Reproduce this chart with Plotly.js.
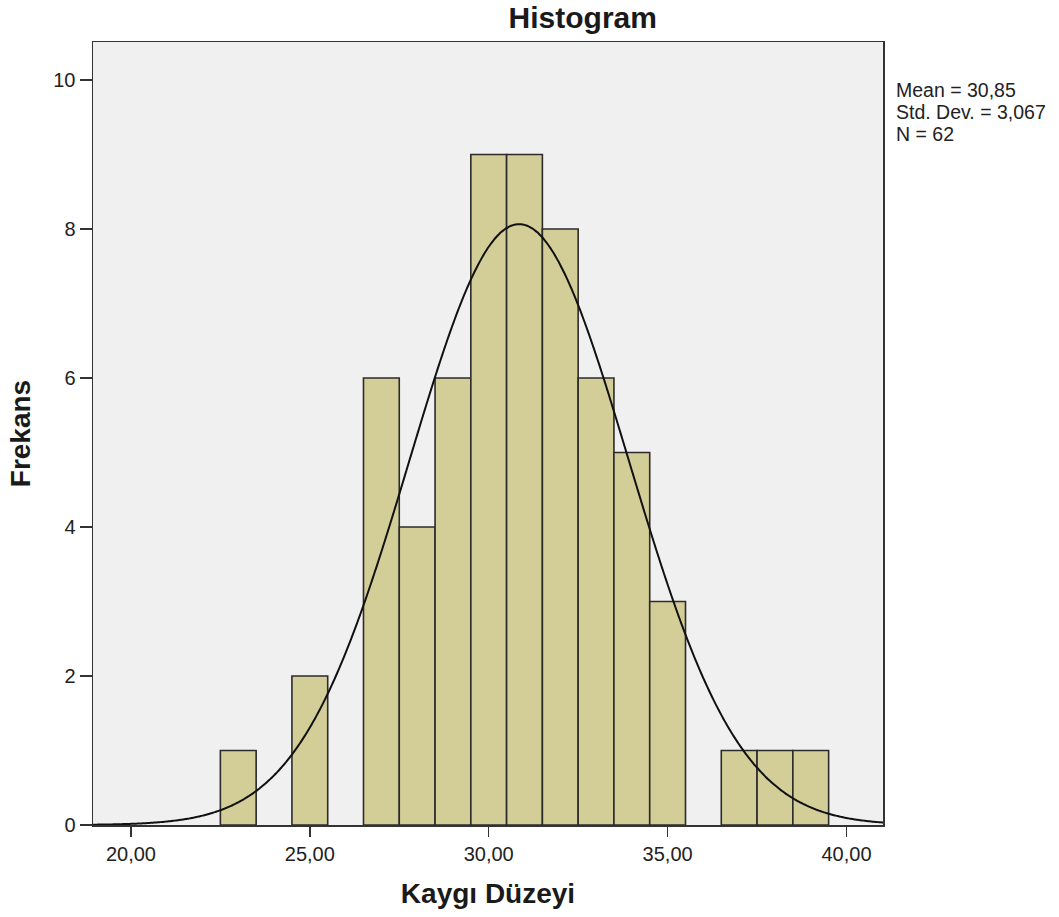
<!DOCTYPE html>
<html><head><meta charset="utf-8">
<script src="https://cdn.plot.ly/plotly-3.0.1.min.js"></script>
<style>html,body{margin:0;padding:0;background:#fff;}#chart{width:1059px;height:917px;}</style>
</head><body><div id="chart"></div>
<script>
// Bin centers (bin width 1) and frequencies
var binCenters = [23, 25, 27, 28, 29, 30, 31, 32, 33, 34, 35, 37, 38, 39];
var frequencies = [1, 2, 6, 4, 6, 9, 9, 8, 6, 5, 3, 1, 1, 1];
var binWidth = 1;
// Summary statistics shown on the chart
var statMean = 30.85;
var statSD = 3.067;
var statN = 62;
var statLines = ["Mean = 30,85", "Std. Dev. = 3,067", "N = 62"];
var xTickVals = [20, 25, 30, 35, 40];
var xTickText = ["20,00", "25,00", "30,00", "35,00", "40,00"];
var yTickVals = [0, 2, 4, 6, 8, 10];

// Fitted normal curve (as drawn by SPSS) from the stated mean, SD and N
var curveX = [], curveY = [];
for (var i = 0; i <= 460; i++) {
  var x = 18.5 + i * 0.05;
  var z = (x - statMean) / statSD;
  curveX.push(x);
  curveY.push(statN * binWidth * Math.exp(-0.5 * z * z) / (statSD * Math.sqrt(2 * Math.PI)));
}

var traces = [
  {type: 'bar', x: binCenters, y: frequencies, width: binWidth,
   marker: {color: '#D3CE97', line: {color: '#2b2b2b', width: 1.6}},
   hoverinfo: 'x+y', showlegend: false},
  {type: 'scatter', mode: 'lines', x: curveX, y: curveY,
   line: {color: '#111111', width: 2, shape: 'spline'}, showlegend: false, hoverinfo: 'skip'}
];

var fontFam = 'Liberation Sans, Arial, sans-serif';
var annots = statLines.map(function (t, k) {
  return {xref: 'paper', yref: 'paper', x: 1.015, y: 0.9545 - k * (22 / 783), xanchor: 'left', yanchor: 'top',
    align: 'left', showarrow: false, text: t, borderpad: 0,
    font: {family: fontFam, size: 19.5, color: '#222'}};
});

var layout = {
  width: 1059, height: 917,
  margin: {l: 93, r: 176, t: 42, b: 92},
  paper_bgcolor: '#ffffff', plot_bgcolor: '#F0F0F0',
  bargap: 0,
  title: {text: '<b>Histogram</b>', font: {family: fontFam, size: 30, color: '#1a1a1a'}, x: 0.62, xanchor: 'center', y: 0.981, yanchor: 'middle', xref: 'paper'},
  xaxis: {
    range: [18.94, 41.02], tickvals: xTickVals, ticktext: xTickText,
    ticks: 'outside', ticklen: 10, tickwidth: 1.5, tickcolor: '#333',
    showline: true, linecolor: '#333', linewidth: 1.5, mirror: true,
    showgrid: false, zeroline: false,
    tickfont: {family: fontFam, size: 20, color: '#222'},
    title: {text: '<b>Kaygı Düzeyi</b>', font: {family: fontFam, size: 28, color: '#1a1a1a'}, standoff: 20}
  },
  yaxis: {
    range: [0, 10.51], tickvals: yTickVals,
    ticks: 'outside', ticklen: 12, tickwidth: 1.5, tickcolor: '#333',
    showline: true, linecolor: '#333', linewidth: 1.5, mirror: true,
    showgrid: false, zeroline: false,
    tickfont: {family: fontFam, size: 20, color: '#222'},
    title: {text: '<b>Frekans</b>', font: {family: fontFam, size: 28, color: '#1a1a1a'}, standoff: 14}
  },
  annotations: annots
};

Plotly.newPlot('chart', traces, layout, {displayModeBar: false, staticPlot: true});
</script></body></html>
